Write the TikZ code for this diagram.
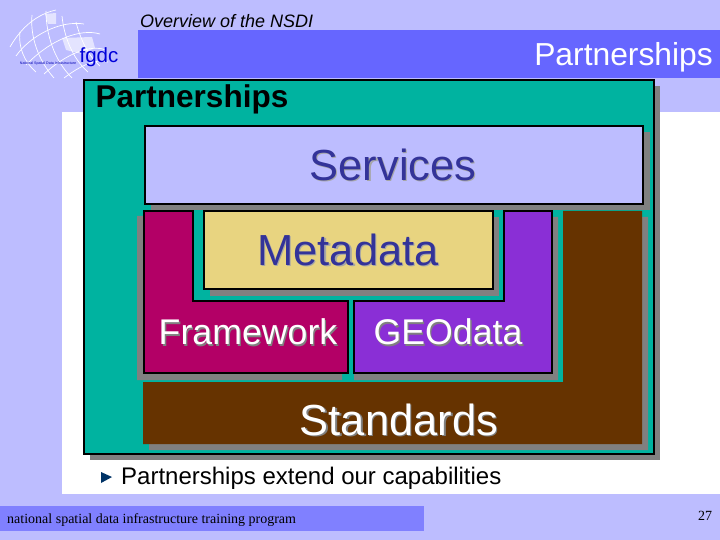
\documentclass[tikz,border=0pt]{standalone}
\usepackage{fontspec}
\setmainfont{Liberation Sans}
\newfontfamily\serifx{Liberation Serif}
\definecolor{bgc}{HTML}{BDBDFF}
\definecolor{barc}{HTML}{6666FF}
\definecolor{footc}{HTML}{8080FF}
\definecolor{teal}{HTML}{00B3A0}
\definecolor{shad}{HTML}{808080}
\definecolor{navy}{HTML}{333399}
\definecolor{sand}{HTML}{E8D480}
\definecolor{frm}{HTML}{B30066}
\definecolor{geo}{HTML}{8A2FD6}
\definecolor{brn}{HTML}{663300}
\definecolor{tricol}{HTML}{003366}
\tikzset{
  box/.style={draw=black,line width=1.3pt},
  bigtext/.style={inner sep=0pt,font=\fontsize{43.5}{44}\selectfont},
  midtext/.style={inner sep=0pt,font=\fontsize{35.7}{36}\selectfont},
  globe/.style={draw=white,line width=0.7pt},
}
\newcommand{\shadtext}[7]{%
  \node[#1,text=#7] at (#2+1.3,#3+1.3) {#6};
  \node[#1,text=#4] (#5) at (#2,#3) {#6};}
\begin{document}
\begin{tikzpicture}[x=1pt,y=-1pt]
\useasboundingbox (0,0) rectangle (720,540);
\fill[bgc] (0,0) rectangle (720,540);
\fill[white] (62,112) rectangle (720,494);
\fill[barc] (138,30) rectangle (720,78);
\fill[footc] (0,506) rectangle (424,531);
% logo
\fill[white,opacity=.6] (45,14) -- (56,13) -- (56,24) -- (48,24) -- cycle;
\fill[white,opacity=.6] (62,38) -- (92,37) -- (95,48) -- (82,54) -- (66,50) -- cycle;
\draw[globe] (10,47) .. controls (22,26) and (38,14) .. (56,10);
\draw[globe] (16,56) .. controls (30,36) and (60,20) .. (84,24);
\draw[globe] (26,65) .. controls (50,40) and (80,28) .. (100,34);
\draw[globe] (44,74) .. controls (66,54) and (90,44) .. (106,50);
\draw[globe] (64,78) .. controls (80,66) and (96,58) .. (108,62);
\draw[globe] (20,32) .. controls (18,46) and (24,62) .. (36,72);
\draw[globe] (32,15) .. controls (30,36) and (38,60) .. (54,78);
\draw[globe] (46,11) .. controls (46,34) and (54,60) .. (72,78);
\draw[globe] (62,16) .. controls (64,36) and (72,58) .. (88,72);
\draw[globe] (76,22) .. controls (80,38) and (88,56) .. (100,66);
\node[inner sep=0pt,text=blue!70!black,font=\fontsize{3.6}{4}\selectfont] (logosub) at (48,64) {National Spatial Data Infrastructure};
\node[inner sep=0pt,text=blue!85!black,font=\fontsize{20.5}{20}\selectfont] (logo) at (99,57) {fgdc};
% teal panel
\fill[shad] (90,86) rectangle (660,460);
\fill[teal,box] (84,80) rectangle (654,454);
% Services
\fill[shad] (151,132) rectangle (650,210);
\fill[bgc,box] (145,126) rectangle (643,204);
% Standards
\fill[shad] (149,388) -- (569,388) -- (569,217) -- (648,217) -- (648,450) -- (149,450) -- cycle;
\fill[brn] (563,211) -- (642,211) -- (642,444) -- (143,444) -- (143,382) -- (563,382) -- cycle;
% Framework
\fill[shad] (137,216) -- (187,216) -- (187,306) -- (342,306) -- (342,380) -- (137,380) -- cycle;
\fill[frm,box] (144,211) -- (193,211) -- (193,301) -- (348,301) -- (348,373) -- (144,373) -- cycle;
% GEOdata
\fill[shad] (510,217) -- (558,217) -- (558,380) -- (354,380) -- (354,307) -- (510,307) -- cycle;
\fill[geo,box] (504,211) -- (552,211) -- (552,373) -- (354,373) -- (354,301) -- (504,301) -- cycle;
% Metadata
\fill[shad] (210,217) rectangle (499,296);
\fill[sand,box] (204,211) rectangle (493,289);
% texts
\node[inner sep=0pt,font=\bfseries\fontsize{31.5}{32}\selectfont] (t1) at (192,99) {Partnerships};
\node[inner sep=0pt,anchor=east,text=white,font=\fontsize{31.8}{32}\selectfont] (t2) at (713,57) {Partnerships};
\node[inner sep=0pt,anchor=west,font=\itshape\fontsize{18}{18}\selectfont] (t3) at (140,21) {Overview of the NSDI};
\shadtext{bigtext}{393}{165}{navy}{svc}{Services}{shad!70}
\shadtext{bigtext}{348}{250}{navy}{meta}{Metadata}{shad!70}
\shadtext{midtext}{248}{332}{white}{fw}{Framework}{shad}
\shadtext{midtext}{448}{332}{white}{gd}{GEOdata}{shad}
\shadtext{bigtext}{399}{420}{white}{std}{Standards}{shad}
\fill[tricol] (101,472) -- (112,477) -- (101,483) -- cycle;
\node[inner sep=0pt,anchor=west,font=\fontsize{24}{24}\selectfont] (cap) at (121,478) {Partnerships extend our capabilities};
\node[inner sep=0pt,anchor=west,font=\serifx\fontsize{14}{14}\selectfont] (foot) at (7,520) {national spatial data infrastructure training program};
\node[inner sep=0pt,font=\serifx\fontsize{14}{14}\selectfont] (pg) at (705,516) {27};
\end{tikzpicture}
\end{document}
